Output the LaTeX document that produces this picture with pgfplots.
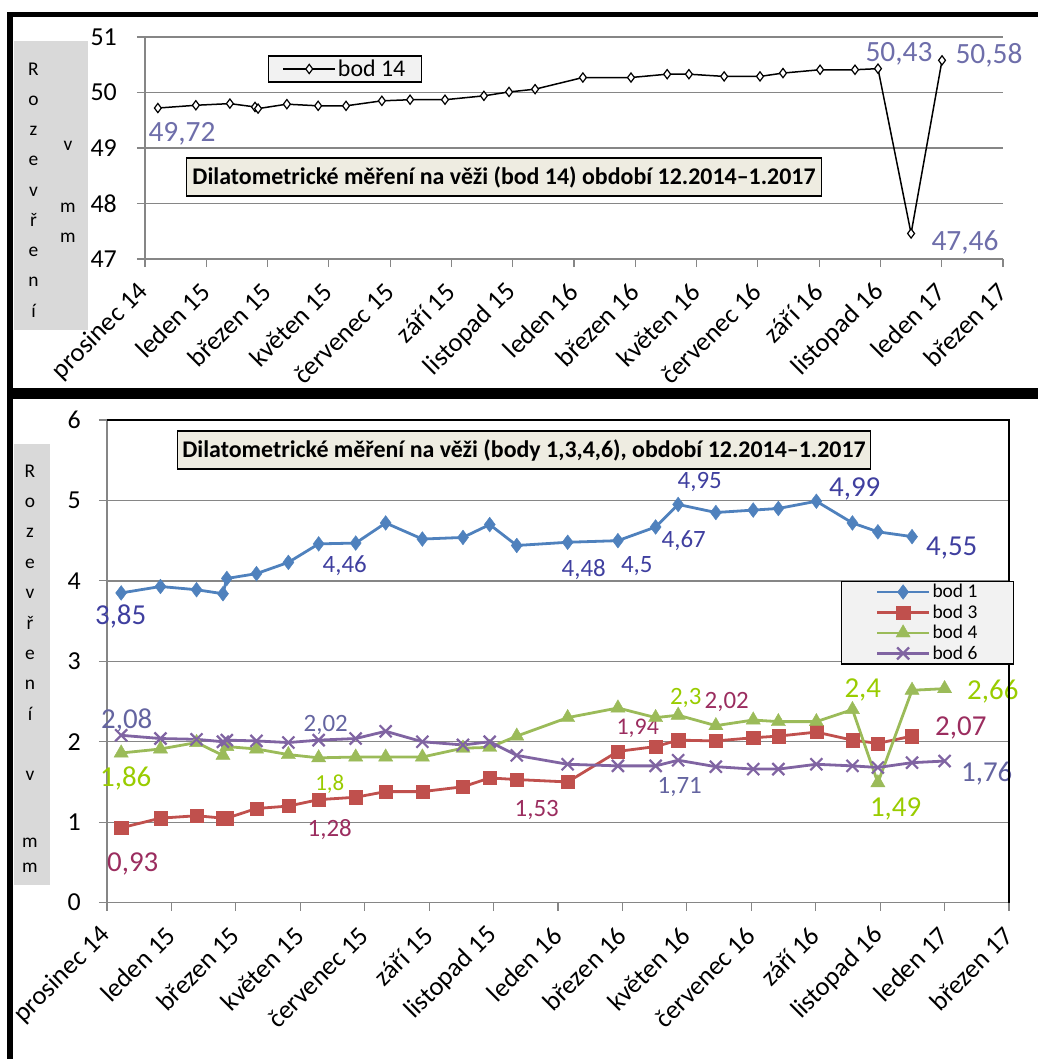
\documentclass[border=0pt]{standalone}
\usepackage{pgfplots}
\usepackage{pgfplotstable}
\pgfplotsset{compat=1.18}
\usepackage{fontspec}
\setmainfont{Carlito}
\definecolor{gridgray}{HTML}{868686}
\definecolor{b1}{HTML}{4F81BD}
\definecolor{b3}{HTML}{C0504D}
\definecolor{b4}{HTML}{9BBB59}
\definecolor{b6}{HTML}{8064A2}
\definecolor{l1}{HTML}{3F3F9F}
\definecolor{l3}{HTML}{9B2D5F}
\definecolor{l4}{HTML}{99CC00}
\definecolor{l6}{HTML}{6464A0}
\definecolor{l14}{HTML}{6E6EAA}
\definecolor{titlebg}{HTML}{EEECE1}
\definecolor{legbg}{HTML}{F2F2F2}
\definecolor{labbg}{HTML}{D9D9D9}
\newcommand{\fs}[1]{\fontsize{#1}{#1}\selectfont}

\pgfplotstableread{
d v
0.42 49.72
1.66 49.77
2.77 49.80
3.59 49.74
3.69 49.71
4.63 49.79
5.65 49.76
6.56 49.76
7.73 49.85
8.65 49.87
9.79 49.87
11.06 49.94
11.88 50.01
12.73 50.06
14.29 50.27
15.86 50.27
17.04 50.33
17.75 50.33
18.90 50.29
20.07 50.29
20.82 50.35
22.03 50.41
23.17 50.41
23.92 50.43
25.00 47.46
26.01 50.58
}\bodXIV

\pgfplotstableread{
d b1 b3 b4 b6
0.44 3.85 0.93 1.86 2.08
1.66 3.93 1.05 1.91 2.04
2.78 3.89 1.08 1.99 2.03
3.60 3.84 1.05 1.83 2.00
3.72 4.03 1.05 1.94 2.02
4.64 4.09 1.17 1.91 2.01
5.63 4.23 1.20 1.84 1.99
6.57 4.46 1.28 1.80 2.02
7.72 4.47 1.31 1.81 2.04
8.65 4.72 1.38 1.81 2.13
9.79 4.52 1.38 1.81 2.00
11.05 4.54 1.44 1.92 1.96
11.88 4.70 1.55 1.93 2.00
12.72 4.44 1.53 2.07 1.83
14.30 4.48 1.50 2.30 1.72
15.86 4.50 1.88 2.42 1.70
17.03 4.67 1.94 2.30 1.70
17.73 4.95 2.02 2.33 1.77
18.90 4.85 2.01 2.20 1.69
20.06 4.88 2.05 2.27 1.66
20.84 4.90 2.07 2.25 1.66
22.02 4.99 2.12 2.25 1.72
23.14 4.72 2.02 2.40 1.70
23.93 4.61 1.98 1.49 1.68
24.99 4.55 2.07 2.64 1.74
26.00 nan nan 2.66 1.76
}\bodyB

\pgfplotsset{
  common/.style={
    scale only axis,
    xmin=0, xmax=28,
    xtick={0,2,...,28},
    xticklabels={prosinec 14,leden 15,březen 15,květen 15,červenec 15,září 15,listopad 15,leden 16,březen 16,květen 16,červenec 16,září 16,listopad 16,leden 17,březen 17},
    tick align=outside,
    major tick length=8bp,
    tick style={gridgray, line width=1.2bp},
    ymajorgrids,
    grid style={gridgray, line width=1.3bp},
    axis line style={gridgray, line width=1.3bp},
    xticklabel style={xshift=0bp, yshift=-20bp, rotate=45, anchor=east, inner sep=1bp, font=\fs{26.5}},
    yticklabel style={font=\fs{26}, inner sep=3bp},
    yticklabel shift=17bp,
    /pgf/number format/assume math mode=true,
    clip=false,
    legend image code/.code={\draw[mark repeat=2,mark phase=2] plot coordinates {(0bp,0bp) (26bp,0bp) (52bp,0bp)};},
  },
}
\tikzset{lbl/.style={anchor=base, inner sep=0pt, font=\fs{#1}}}

\begin{document}
\begin{tikzpicture}
\path[use as bounding box] (0,0) rectangle (1038bp,-1059bp);

\begin{scope}[x=1bp,y=-1bp]
% frames
\fill[black] (7,12) rectangle (1038,16.5);
\fill[black] (7,12) rectangle (13,1059);
\fill[black] (7,388) rectangle (1038,399);
% y-label boxes
\fill[labbg] (14,41) rectangle (88,330);
\foreach \c [count=\i from 0] in {R,o,z,e,v,ř,e,n,í}
  \node[anchor=base, inner sep=0pt, font=\fs{19.5}] at (33.5, 75+30.25*\i) {\c};
\node[anchor=base, inner sep=0pt, font=\fs{19.5}] at (68,150) {v};
\node[anchor=base, inner sep=0pt, font=\fs{19.5}] at (68,212) {m};
\node[anchor=base, inner sep=0pt, font=\fs{19.5}] at (68,242) {m};
\fill[labbg] (14,444) rectangle (50,885);
\foreach \c [count=\i from 0] in {R,o,z,e,v,ř,e,n,í}
  \node[anchor=base, inner sep=0pt, font=\fs{19.5}] at (30, 477+30.4*\i) {\c};
\node[anchor=base, inner sep=0pt, font=\fs{19.5}] at (30,780) {v};
\node[anchor=base, inner sep=0pt, font=\fs{19.5}] at (30,847) {m};
\node[anchor=base, inner sep=0pt, font=\fs{19.5}] at (30,872) {m};
\end{scope}

% ---------- top chart ----------
\begin{axis}[common,
  at={(145bp,-259bp)}, anchor=south west,
  width=858bp, height=222bp,
  ymin=47, ymax=51, ytick={47,48,49,50,51},
  axis x line*=bottom, axis y line*=left,
  legend style={at={(0.233,0.856)}, anchor=center, fill=legbg, draw=black, line width=1.5bp, font=\fs{24}, inner xsep=14bp, inner ysep=2bp},
]
\addplot[black, line width=1.5bp, mark=diamond*, mark size=4.6bp, mark options={fill=white, draw=black, line width=1.2bp}] table[x=d, y=v] {\bodXIV};
\addlegendentry{bod 14}
\node[draw=black, fill=titlebg, line width=1.5bp, font=\bfseries\fs{24}, inner xsep=6bp, minimum height=38bp] at (axis cs:11.716,48.477) {Dilatometrické měření na věži (bod 14) období 12.2014–1.2017};
\node[lbl=29.5, text=l14] at (axis cs:1.207,49.121) {49,72};
\node[lbl=29.5, text=l14] at (axis cs:24.606,50.562) {50,43};
\node[lbl=29.5, text=l14] at (axis cs:27.543,50.526) {50,58};
\node[lbl=29.5, text=l14] at (axis cs:26.760,47.157) {47,46};
\end{axis}

% ---------- bottom chart ----------
\begin{axis}[common,
  at={(107bp,-902.6bp)}, anchor=south west,
  width=902bp, height=482.6bp,
  ymin=0, ymax=6, ytick={0,1,...,6},
  tick pos=left,
  yticklabel shift=15bp,
  legend style={at={(0.9097,0.580)}, anchor=center, fill=legbg, draw=black, line width=1.5bp, font=\fs{19.5}, inner xsep=34bp, inner ysep=1bp, row sep=1.5bp},
  legend cell align=left,
  after end axis/.code={\draw[black, line width=1.6bp] (rel axis cs:0,1) -- (rel axis cs:1,1) -- (rel axis cs:1,0);},
]
\addplot[b1, line width=2.8bp, mark=diamond*, mark size=7.4bp, mark options={fill=b1, draw=b1, line width=0.4bp}] table[x=d, y=b1] {\bodyB};
\addlegendentry{bod 1}
\addplot[b3, line width=2.8bp, mark=square*, mark size=6.6bp, mark options={fill=b3, draw=b3, line width=0.4bp}] table[x=d, y=b3] {\bodyB};
\addlegendentry{bod 3}
\addplot[b4, line width=2.8bp, mark=triangle*, mark size=8.2bp, mark options={fill=b4, draw=b4, line width=0.4bp}] table[x=d, y=b4] {\bodyB};
\addlegendentry{bod 4}
\addplot[b6, line width=2.8bp, mark=x, mark size=8.5bp, mark options={draw=b6, line width=2.2bp}] table[x=d, y=b6] {\bodyB};
\addlegendentry{bod 6}
\node[draw=black, fill=titlebg, line width=1.5bp, font=\bfseries\fs{24}, inner xsep=5bp, minimum height=38bp] at (axis cs:12.945,5.627) {Dilatometrické měření na věži (body 1,3,4,6), období 12.2014–1.2017};
% bod 1 labels
\node[lbl=29, text=l1] at (axis cs:0.425,3.463) {3,85};
\node[lbl=25, text=l1] at (axis cs:7.380,4.099) {4,46};
\node[lbl=25, text=l1] at (axis cs:14.80,4.050) {4,48};
\node[lbl=25, text=l1] at (axis cs:16.445,4.099) {4,5};
\node[lbl=25, text=l1] at (axis cs:17.904,4.410) {4,67};
\node[lbl=25, text=l1] at (axis cs:18.401,5.144) {4,95};
\node[lbl=29, text=l1] at (axis cs:23.213,5.054) {4,99};
\node[lbl=29, text=l1] at (axis cs:26.224,4.321) {4,55};
% bod 4 labels
\node[lbl=29, text=l4] at (axis cs:0.581,1.449) {1,86};
\node[lbl=23, text=l4] at (axis cs:6.914,1.396) {1,8};
\node[lbl=25, text=l4] at (axis cs:17.966,2.458) {2,3};
\node[lbl=29, text=l4] at (axis cs:23.46,2.555) {2,4};
\node[lbl=29, text=l4] at (axis cs:24.48,1.075) {1,49};
\node[lbl=29, text=l4] at (axis cs:27.497,2.530) {2,66};
% bod 3 labels
\node[lbl=29, text=l3] at (axis cs:0.798,0.392) {0,93};
\node[lbl=25, text=l3] at (axis cs:6.914,0.817) {1,28};
\node[lbl=25, text=l3] at (axis cs:13.34,1.066) {1,53};
\node[lbl=24, text=l3] at (axis cs:16.476,2.089) {1,94};
\node[lbl=25, text=l3] at (axis cs:19.239,2.408) {2,02};
\node[lbl=29, text=l3] at (axis cs:26.504,2.083) {2,07};
% bod 6 labels
\node[lbl=29, text=l6] at (axis cs:0.612,2.170) {2,08};
\node[lbl=25, text=l6] at (axis cs:6.790,2.122) {2,02};
\node[lbl=25, text=l6] at (axis cs:17.780,1.351) {1,71};
\node[lbl=29, text=l6] at (axis cs:27.31,1.511) {1,76};
\end{axis}
\end{tikzpicture}
\end{document}
